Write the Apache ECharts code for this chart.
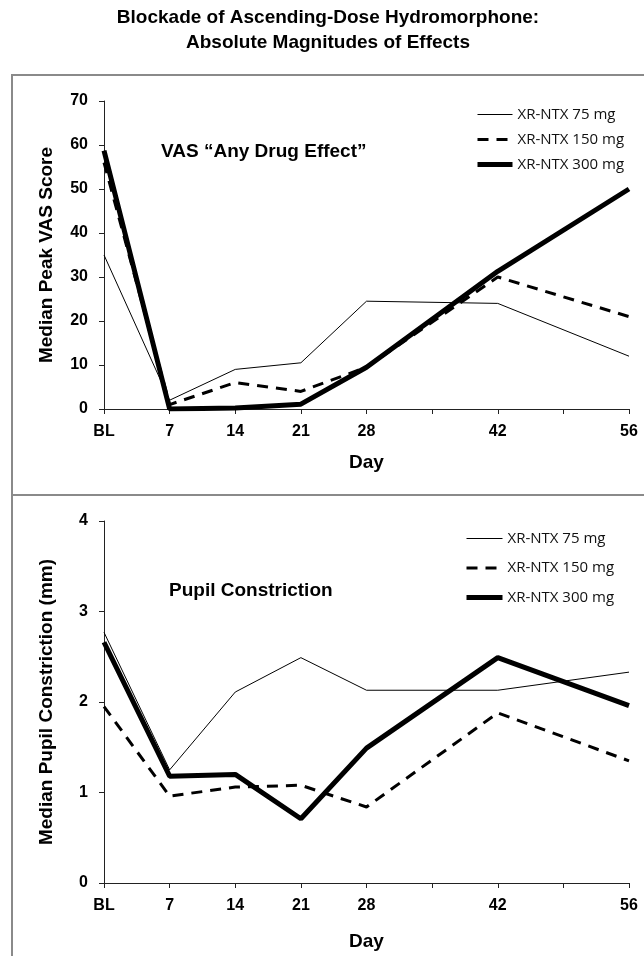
<!DOCTYPE html>
<html>
<head>
<meta charset="utf-8">
<script src="https://cdn.jsdelivr.net/npm/echarts@6/dist/echarts.min.js"></script>
<style>
  html, body { margin: 0; padding: 0; background: #fff; }
  #main { width: 644px; height: 956px; }
</style>
</head>
<body>
<div id="main"></div>
<script>
// days of measurement, BL = day 0
var days = [0, 7, 14, 21, 28, 42, 56];
var doseNames = ['XR-NTX 75 mg', 'XR-NTX 150 mg', 'XR-NTX 300 mg'];

// VAS "Any Drug Effect" median peak score
var vas75 = [35, 2, 9, 10.5, 24.5, 24, 12];
var vas150 = [56, 1, 6, 4, 9.5, 30, 21];
var vas300 = [58.7, 0, 0.2, 1.1, 9.5, 31.3, 50];

// pupil constriction median (mm)
var pupil75 = [2.77, 1.25, 2.11, 2.49, 2.13, 2.13, 2.33];
var pupil150 = [1.95, 0.96, 1.06, 1.08, 0.84, 1.88, 1.35];
var pupil300 = [2.66, 1.18, 1.2, 0.71, 1.49, 2.49, 1.96];

(function(){
    var myChart = echarts.init(document.getElementById('main'));
    var font = 'Liberation Sans, Arial, sans-serif';

    function pairs(vals){
        return days.map(function(d, i){ return [d, vals[i]]; });
    }

    // line look per dose: thin, dashed, thick
    var looks = [
        {width: 1, type: 'solid'},
        {width: 3, type: [11, 8]},
        {width: 5, type: 'solid'}
    ];

    function makeSeries(vals, idx, gridIdx){
        return {
            type: 'line',
            name: doseNames[idx],
            xAxisIndex: gridIdx,
            yAxisIndex: gridIdx,
            symbol: 'none',
            z: 2 + idx,
            itemStyle: {color: '#000'},
            lineStyle: {color: '#000', width: looks[idx].width, type: looks[idx].type},
            data: pairs(vals)
        };
    }

    function xAxis(gridIdx, gap){
        return {
            type: 'value', gridIndex: gridIdx,
            min: 0, max: 56, interval: 7,
            name: 'Day', nameLocation: 'middle', nameGap: gap,
            nameTextStyle: {color: '#000', fontSize: 19, fontWeight: 'bold', fontFamily: font},
            axisLine: {lineStyle: {color: '#222', width: 1}},
            axisTick: {show: true, length: 5, lineStyle: {color: '#222'}},
            splitLine: {show: false},
            axisLabel: {
                margin: 15, color: '#000', fontSize: 16, fontWeight: 'bold', fontFamily: font,
                formatter: function(v){
                    if (v === 0) return 'BL';
                    if (v === 35 || v === 49) return '';
                    return v;
                }
            }
        };
    }

    function yAxis(gridIdx, name, max, interval){
        return {
            type: 'value', gridIndex: gridIdx,
            min: 0, max: max, interval: interval,
            name: name, nameLocation: 'middle', nameGap: 48,
            nameTextStyle: {color: '#000', fontSize: 19, fontWeight: 'bold', fontFamily: font},
            axisLine: {show: true, lineStyle: {color: '#222', width: 1}},
            axisTick: {show: true, length: 5, lineStyle: {color: '#222'}},
            splitLine: {show: false},
            axisLabel: {margin: 16, color: '#000', fontSize: 16, fontWeight: 'bold', fontFamily: font}
        };
    }

    function legendItems(){
        return doseNames.map(function(n, i){
            return {
                name: n,
                itemStyle: {opacity: 0},
                lineStyle: {width: looks[i].width, type: looks[i].type, color: '#000'}
            };
        });
    }

    var legendText = {color: '#111', fontSize: 15, fontFamily: 'Open Sans, sans-serif'};
    var titleFont = 'bold 19px Liberation Sans, Arial, sans-serif';

    option = {
        backgroundColor: '#fff',
        animation: false,
        title: [
            {
                text: 'VAS \u201cAny Drug Effect\u201d',
                left: 161, top: 142, padding: 0,
                textStyle: {color: '#000', fontSize: 19, fontWeight: 'bold', fontFamily: font}
            },
            {
                text: 'Pupil Constriction',
                left: 169, top: 581, padding: 0,
                textStyle: {color: '#000', fontSize: 19, fontWeight: 'bold', fontFamily: font}
            }
        ],
        legend: [
            {
                orient: 'vertical', left: 475, top: 107, padding: 0,
                itemWidth: 35, itemHeight: 14, itemGap: 10,
                textStyle: legendText,
                data: legendItems()
            },
            {
                orient: 'vertical', left: 464, top: 531, padding: 0,
                itemWidth: 36, itemHeight: 14, itemGap: 14.5,
                textStyle: legendText,
                data: legendItems()
            }
        ],
        graphic: [
            {type: 'text', x: 328, y: 8, silent: true,
             style: {text: 'Blockade of Ascending-Dose Hydromorphone:', align: 'center', font: titleFont, fill: '#000'}},
            {type: 'text', x: 328, y: 33, silent: true,
             style: {text: 'Absolute Magnitudes of Effects', align: 'center', font: titleFont, fill: '#000'}},
            {type: 'rect', shape: {x: 12, y: 75, width: 700, height: 420},
             style: {fill: 'none', stroke: '#8a8a8a', lineWidth: 2}, silent: true},
            {type: 'rect', shape: {x: 12, y: 495, width: 700, height: 600},
             style: {fill: 'none', stroke: '#8a8a8a', lineWidth: 2}, silent: true}
        ],
        grid: [
            {left: 104, right: 15, top: 101, height: 308},
            {left: 104, right: 15, top: 521, height: 362}
        ],
        xAxis: [xAxis(0, 44), xAxis(1, 49)],
        yAxis: [
            yAxis(0, 'Median Peak VAS Score', 70, 10),
            yAxis(1, 'Median Pupil Constriction (mm)', 4, 1)
        ],
        series: [
            makeSeries(vas75, 0, 0),
            makeSeries(vas150, 1, 0),
            makeSeries(vas300, 2, 0),
            makeSeries(pupil75, 0, 1),
            makeSeries(pupil150, 1, 1),
            makeSeries(pupil300, 2, 1)
        ]
    };

    myChart.setOption(option);

    window.addEventListener('resize', function(){
        myChart.resize();
    });
})();
</script>
</body>
</html>
